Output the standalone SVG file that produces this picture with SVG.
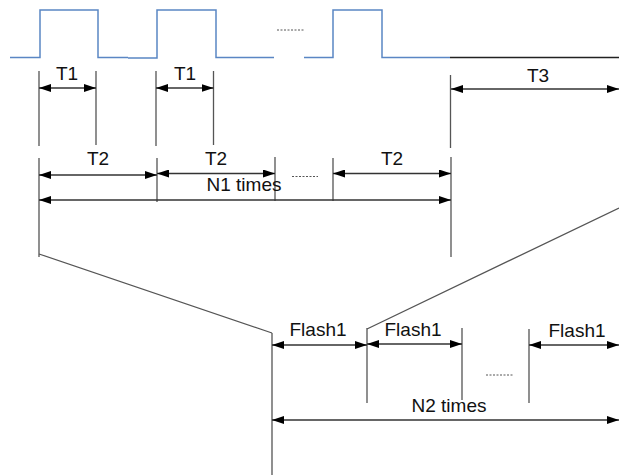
<svg xmlns="http://www.w3.org/2000/svg" width="619" height="475" viewBox="0 0 619 475">
<style>
.w{fill:none;stroke:#5A86C4;stroke-width:1.5}
.v{stroke:#555;stroke-width:1.3;fill:none}
.a{stroke:#333;stroke-width:1.3;fill:none}
.d{stroke:#555;stroke-width:1;stroke-dasharray:2,1.5;fill:none}
text{font-family:"Liberation Sans",Arial,sans-serif;font-size:19px;fill:#111;text-anchor:middle}
</style>
<defs>
<marker id="ah" viewBox="0 0 12 8" refX="12" refY="4" markerWidth="12" markerHeight="8" markerUnits="userSpaceOnUse" orient="auto-start-reverse">
<path d="M0,0 L12,4 L0,8 Z" fill="#000"/>
</marker>
</defs>
<g id="waveform">
<path class="w" d="M10,57.5 H40 V10 H98 V57.5 H128"/>
<path class="w" d="M128,58 H157 V10 H216 V57.5 H274"/>
<path class="w" d="M304,57.5 H333 V10 H382 V57.5 H450"/>
<path d="M450,57.5 H619" stroke="#222" stroke-width="1.3"/>
<path class="d" d="M277,30 H305"/>
</g>
<g id="connectors">
<path class="v" d="M39,71 V146 M96,71 V145 M156,71 V146 M213.5,71 V145 M450.5,75 V148"/>
<path class="v" d="M39,158 V257 M157,158 V202 M275,157 V201 M333,158 V201 M451,157 V257"/>
<path class="v" d="M39,254 L272,333 M619,208 L367,329"/>
<path class="v" d="M272,333 V475 M367,328 V403 M462,328 V400 M529,329 V403"/>
<path class="a" d="M39,88 H96" marker-start="url(#ah)" marker-end="url(#ah)"/>
<path class="a" d="M156,88 H213.5" marker-start="url(#ah)" marker-end="url(#ah)"/>
<path class="a" d="M451,89 H619" marker-start="url(#ah)" marker-end="url(#ah)"/>
<path class="a" d="M39,175 H157" marker-start="url(#ah)" marker-end="url(#ah)"/>
<path class="a" d="M157,173.5 H275" marker-start="url(#ah)" marker-end="url(#ah)"/>
<path class="a" d="M333,173.5 H451" marker-start="url(#ah)" marker-end="url(#ah)"/>
<path class="a" d="M39,200 H451" marker-start="url(#ah)" marker-end="url(#ah)"/>
<path class="a" d="M272,345 H367" marker-start="url(#ah)" marker-end="url(#ah)"/>
<path class="a" d="M367,344 H462" marker-start="url(#ah)" marker-end="url(#ah)"/>
<path class="a" d="M529,345 H619" marker-start="url(#ah)" marker-end="url(#ah)"/>
<path class="a" d="M272,420 H619" marker-start="url(#ah)" marker-end="url(#ah)"/>
<path class="d" d="M292,176.5 H318 M486,375 H513"/>
</g>
<g id="labels">
<text x="67" y="80">T1</text>
<text x="185" y="80">T1</text>
<text x="538" y="82">T3</text>
<text x="98" y="165">T2</text>
<text x="216" y="165">T2</text>
<text x="392" y="165">T2</text>
<text x="244" y="191">N1 times</text>
<text x="318" y="336">Flash1</text>
<text x="413" y="336">Flash1</text>
<text x="577" y="337">Flash1</text>
<text x="449" y="412">N2 times</text>
</g>
</svg>
